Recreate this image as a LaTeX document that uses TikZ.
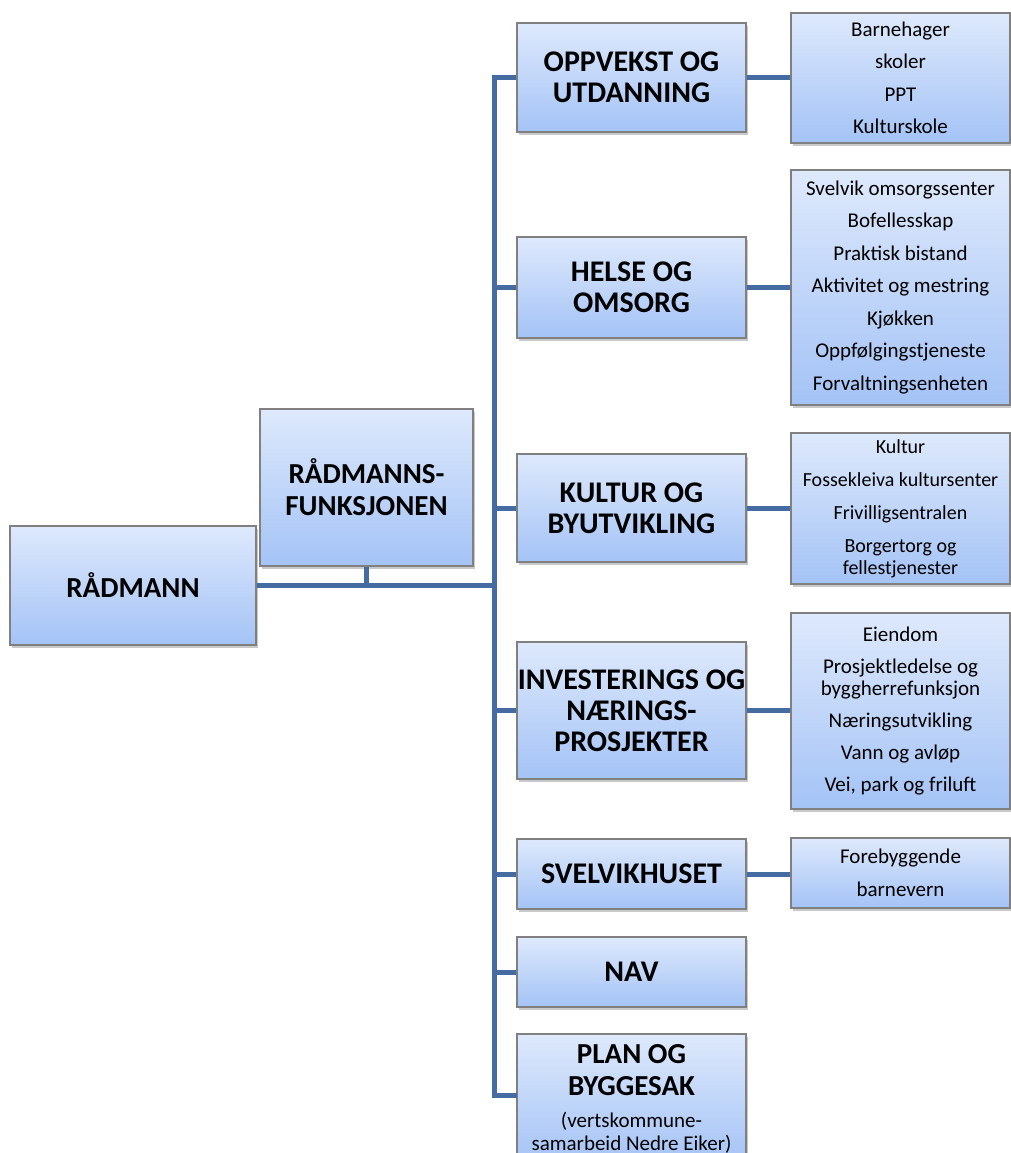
\documentclass[tikz,border=0pt]{standalone}
\usepackage{fontspec}
\setmainfont{Carlito}
\usetikzlibrary{shadows}
\definecolor{boxtop}{RGB}{222,233,252}
\definecolor{boxbot}{RGB}{164,195,246}
\definecolor{boxborder}{RGB}{128,128,128}
\definecolor{linec}{RGB}{68,108,162}
\tikzset{
  box/.style={draw=boxborder, line width=1.2pt, top color=boxtop, bottom color=boxbot,
    inner sep=0pt, align=center,
    drop shadow={opacity=0.35, shadow xshift=1.5pt, shadow yshift=-3pt, fill=black!60}},
  topbox/.style={box, font=\fontsize{29}{32}\selectfont\bfseries},
  headbox/.style={box, font=\fontsize{30}{31}\selectfont\bfseries},
  listbox/.style={box, font=\fontsize{21}{22}\selectfont},
  plantitle/.style={inner sep=0pt, anchor=base, font=\fontsize{29}{32}\selectfont\bfseries},
  plansub/.style={inner sep=0pt, anchor=base, font=\fontsize{21}{23}\selectfont},
  conn/.style={draw=linec, line width=5pt}
}
\begin{document}
\begin{tikzpicture}[x=1pt,y=-1pt]
\fill[white] (0,0) rectangle (1011,1153);
\useasboundingbox (0,0) rectangle (1011,1153);
% level 1
\node[topbox, minimum width=246pt, minimum height=119pt] (r) at (133,585.5) {RÅDMANN};
\node[topbox, minimum width=213pt, minimum height=157pt] (rf) at (366.5,487.5) {RÅDMANNS-\\FUNKSJONEN};
% level 2
\node[headbox, minimum width=229pt, minimum height=109pt] (opp) at (631.5,77.5) {OPPVEKST OG\\UTDANNING};
\node[headbox, minimum width=229pt, minimum height=101pt] (hel) at (631.5,287.5) {HELSE OG\\OMSORG};
\node[headbox, minimum width=229pt, minimum height=108pt] (kul) at (631.5,508) {KULTUR OG\\BYUTVIKLING};
\node[headbox, minimum width=229pt, minimum height=137pt] (inv) at (631.5,710.5) {INVESTERINGS OG\\NÆRINGS-\\PROSJEKTER};
\node[headbox, minimum width=229pt, minimum height=70pt] (sve) at (631.5,874) {SVELVIKHUSET};
\node[headbox, minimum width=229pt, minimum height=70pt] (nav) at (631.5,972) {NAV};
\node[box, minimum width=229pt, minimum height=131pt] (plan) at (631.5,1099.5) {};
\node[plantitle] (pl1) at (631.5,1063) {PLAN OG};
\node[plantitle] (pl2) at (631.5,1095) {BYGGESAK};
\node[plansub] (pl3) at (631.5,1127) {(vertskommune-};
\node[plansub] (pl4) at (631.5,1150) {samarbeid Nedre Eiker)};
% level 3
\node[listbox, minimum width=219pt, minimum height=130pt] (l1) at (900.5,78)
  {Barnehager\\[10.5pt]skoler\\[10.5pt]PPT\\[10.5pt]Kulturskole};
\node[listbox, minimum width=219pt, minimum height=235pt] (l2) at (900.5,287.5)
  {Svelvik omsorgssenter\\[10.5pt]Bofellesskap\\[10.5pt]Praktisk bistand\\[10.5pt]Aktivitet og mestring\\[10.5pt]Kjøkken\\[10.5pt]Oppfølgingstjeneste\\[10.5pt]Forvaltningsenheten};
\node[listbox, minimum width=219pt, minimum height=151pt, font=\fontsize{20}{22}\selectfont] (l3) at (900.5,508.5)
  {Kultur\\[11pt]Fossekleiva kultursenter\\[11pt]Frivilligsentralen\\[11pt]Borgertorg og\\fellestjenester};
\node[listbox, minimum width=219pt, minimum height=196pt] (l4) at (900.5,711)
  {Eiendom\\[10pt]Prosjektledelse og\\byggherrefunksjon\\[10pt]Næringsutvikling\\[10pt]Vann og avløp\\[10pt]Vei, park og friluft};
\node[listbox, minimum width=219pt, minimum height=70pt] (l5) at (900.5,873)
  {Forebyggende\\[10.5pt]barnevern};
% connectors
\coordinate (tr) at (494,78);
\coordinate (planin) at (517,1095);
\draw[conn] (r.east) -- (r.east -| tr);
\draw[conn] (rf.south) -- (rf.south |- r.east);
\draw[conn] (opp.west) -- (opp.west -| tr) -- (planin -| tr) -- (planin);
\draw[conn] (hel.west -| tr) -- (hel.west);
\draw[conn] (kul.west -| tr) -- (kul.west);
\draw[conn] (inv.west -| tr) -- (inv.west);
\draw[conn] (sve.west -| tr) -- (sve.west);
\draw[conn] (nav.west -| tr) -- (nav.west);
\draw[conn] (opp.east) -- (opp.east -| l1.west);
\draw[conn] (hel.east) -- (hel.east -| l2.west);
\draw[conn] (kul.east) -- (kul.east -| l3.west);
\draw[conn] (inv.east) -- (inv.east -| l4.west);
\draw[conn] (sve.east) -- (sve.east -| l5.west);
\end{tikzpicture}
\end{document}
